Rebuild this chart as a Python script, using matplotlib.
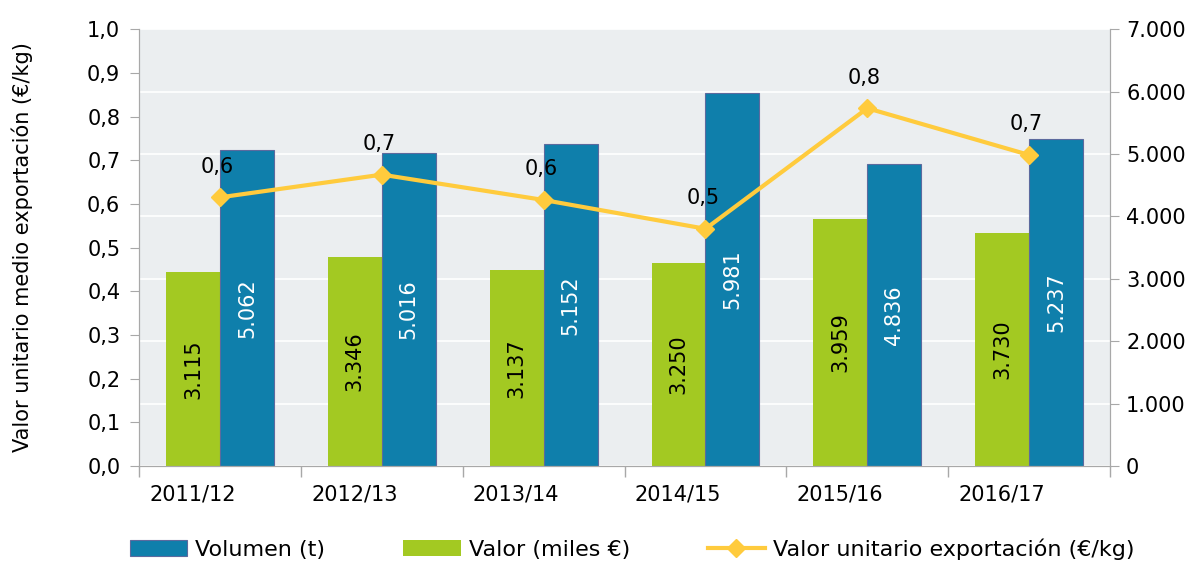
import numpy as np
import matplotlib.pyplot as plt
from matplotlib.ticker import FixedLocator

campanas = ["2011/12", "2012/13", "2013/14", "2014/15", "2015/16", "2016/17"]
volumen = [5062, 5016, 5152, 5981, 4836, 5237]      # t
valor = [3115, 3346, 3137, 3250, 3959, 3730]        # miles €
valor_unitario = [0.615, 0.667, 0.609, 0.543, 0.819, 0.712]  # €/kg

azul = "#0F7FAB"
verde = "#A3C922"
amarillo = "#FFCB3D"
fondo = "#EBEEF0"
gris = "#A8A8A8"
fs = 15


def miles(v):
    return f"{v:,.0f}".replace(",", ".")


plt.rcParams["font.family"] = ["DejaVu Sans"]
fig = plt.figure(figsize=(12.04, 5.72), dpi=100)
ax = fig.add_axes([0.1155, 0.1853, 0.922 - 0.1155, 0.949 - 0.1853])
ax2 = ax.twinx()

x = np.arange(len(campanas))
w = 0.333

# barras en el eje derecho (0-7000)
b_verde = ax.bar(x - w / 2, valor, w, color=verde, zorder=2, label="Valor (miles €)")
b_azul = ax.bar(x + w / 2, volumen, w, color=azul, edgecolor="#5C6A9E", linewidth=0.8,
                zorder=2, label="Volumen (t)")
for xi, v in zip(x, valor):
    ax.text(xi - w / 2, v / 2, miles(v), rotation=90, ha="center", va="center",
            fontsize=fs, color="black", zorder=3)
for xi, v in zip(x, volumen):
    ax.text(xi + w / 2, v / 2, miles(v), rotation=90, ha="center", va="center",
            fontsize=fs, color="white", zorder=3)

ax.set_ylim(0, 7000)
ax.set_yticks(np.arange(0, 7001, 1000))
ax.set_yticklabels([miles(v) for v in np.arange(0, 7001, 1000)])
ax.yaxis.tick_right()
ax.set_facecolor(fondo)
ax.grid(axis="y", color="white", linewidth=1.2, zorder=0)
ax.set_axisbelow(True)

# línea en el eje izquierdo (0-1)
linea, = ax2.plot(x, valor_unitario, color=amarillo, linewidth=3, marker="D",
                  markersize=9, zorder=5, label="Valor unitario exportación (€/kg)")
for xi, v in zip(x, valor_unitario):
    ax2.annotate(f"{v:.1f}".replace(".", ","), (xi, v), xytext=(-2, 22),
                 textcoords="offset points", ha="center", va="center", fontsize=fs)
ax2.set_ylim(0, 1.0)
ax2.set_yticks(np.arange(0, 1.01, 0.1))
ax2.set_yticklabels([f"{v:.1f}".replace(".", ",") for v in np.arange(0, 1.01, 0.1)])
ax2.yaxis.tick_left()
fig.text(22 / 1204, 0.568, "Valor unitario medio exportación (€/kg)", rotation=90,
         ha="center", va="center", fontsize=fs)

# eje x: etiquetas desplazadas, marcas entre campañas
ax.set_xlim(-0.5, len(campanas) - 0.5)
ax.set_xticks(x - 0.17)
ax.set_xticklabels(campanas, fontsize=fs)
ax.xaxis.set_minor_locator(FixedLocator(np.arange(-0.5, len(campanas), 1.0)))
ax.tick_params(axis="x", which="major", length=0, pad=13)
ax.tick_params(axis="x", which="minor", length=8, color=gris, width=1)

ax.tick_params(axis="y", length=6.5, color=gris, labelsize=fs, pad=5)
ax2.tick_params(axis="y", length=6.5, color=gris, labelsize=fs, pad=7)

for a in (ax, ax2):
    for s in a.spines.values():
        s.set_color(gris)
    a.spines["top"].set_visible(False)

fig.legend([b_azul, b_verde, linea],
           ["Volumen (t)", "Valor (miles €)", "Valor unitario exportación (€/kg)"],
           loc="center", bbox_to_anchor=(0.525, 0.04), ncol=3, frameon=False,
           fontsize=16, handlelength=2.6, handleheight=0.7, columnspacing=3.5,
           handletextpad=0.35)

fig.savefig("out.png", dpi=100)
